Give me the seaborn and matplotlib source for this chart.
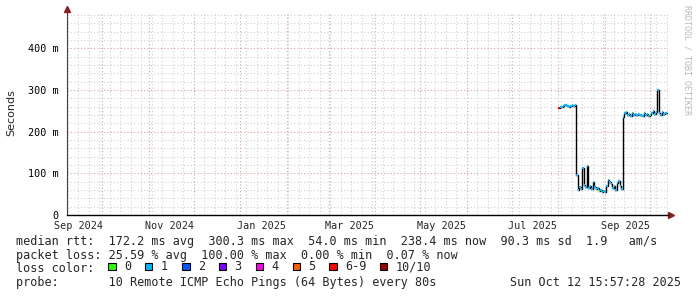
import numpy as np
import pandas as pd
import matplotlib
matplotlib.use("Agg")
import matplotlib.pyplot as plt
import matplotlib.dates as mdates
from matplotlib.patches import Rectangle
from matplotlib.ticker import MultipleLocator, FuncFormatter
import seaborn as sns

# ---------------- data ----------------
seg1_start = "2025-08-01"
seg1_ms = [256, 258, 259, 262, 264, 263, 261, 259, 262, 264, 262, 263]
seg1_loss = [7, 1, 1, 1, 1, 1, 1, 1, 1, 1, 1, 1]

seg2_start = "2025-08-13"
seg2_ms = [96, 60, 68, 63, 112, 72, 66, 118, 64, 70, 62, 80, 66, 62, 65, 58,
           60, 56, 57, 55, 70, 84, 78, 74, 64, 70, 60, 76, 82, 70, 62]
seg2_loss = [1] * 15 + [0] + [1] * 15

seg3_start = "2025-09-13"
seg3_ms = [236, 244, 246, 240, 243, 238, 245, 240, 242, 239, 243, 240, 241,
           238, 244, 240, 242, 238, 241, 245, 250, 242, 248, 300, 244, 240,
           246, 243, 245]
seg3_loss = [1] * 18 + [0] + [1] * 10

x_start = "2024-09-07 15:57:28"
x_end = "2025-10-12 15:57:28"

tick_labels = ["Sep 2024", "Nov 2024", "Jan 2025", "Mar 2025", "May 2025",
               "Jul 2025", "Sep 2025"]
tick_label_dates = ["2024-09-15", "2024-11-15", "2025-01-15", "2025-03-15",
                    "2025-05-15", "2025-07-15", "2025-09-15"]

loss_names = ["0", "1", "2", "3", "4", "5", "6-9", "10/10"]
loss_colors = ["#26ff00", "#00b8ff", "#0059ff", "#7e00ff", "#ff00ea",
               "#ff5e00", "#ff0000", "#a10000"]

legend_line1 = ("median rtt:  172.2 ms avg  300.3 ms max  54.0 ms min  "
                "238.4 ms now  90.3 ms sd  1.9   am/s")
legend_line2 = ("packet loss: 25.59 % avg  100.00 % max  0.00 % min  "
                "0.07 % now")
legend_line3 = "loss color:"
legend_line4 = "probe:       10 Remote ICMP Echo Pings (64 Bytes) every 80s"
timestamp = "Sun Oct 12 15:57:28 2025"


def loss_color(n):
    if n <= 5:
        return loss_colors[n]
    if n < 10:
        return loss_colors[6]
    return loss_colors[7]


frames = []
for start, vals, loss in [(seg1_start, seg1_ms, seg1_loss),
                          (seg2_start, seg2_ms, seg2_loss),
                          (seg3_start, seg3_ms, seg3_loss)]:
    t = pd.date_range(start, periods=len(vals), freq="D")
    frames.append(pd.DataFrame({"time": t, "rtt": np.array(vals) / 1000.0,
                                "loss": loss}))
df = pd.concat(frames, ignore_index=True)
last = pd.DataFrame({"time": [df["time"].iloc[-1] + pd.Timedelta(days=1)],
                     "rtt": [df["rtt"].iloc[-1]], "loss": [df["loss"].iloc[-1]]})
df_step = pd.concat([df, last], ignore_index=True)

# ---------------- figure ----------------
sns.set_style("white")
plt.rcParams["font.family"] = ["DejaVu Sans Mono", "DejaVu Sans"]

W, H = 697, 297
fig = plt.figure(figsize=(W / 100, H / 100), dpi=100)
fig.patch.set_facecolor("white")
ax_l, ax_r, ax_t, ax_b = 67, 667.5, 14, 215
ax = fig.add_axes([ax_l / W, (H - ax_b) / H, (ax_r - ax_l) / W, (ax_b - ax_t) / H])
ax.set_facecolor("white")

sns.lineplot(data=df_step, x="time", y="rtt", drawstyle="steps-post",
             color="black", linewidth=1.0, ax=ax, zorder=3)
ends = df["time"] + pd.Timedelta(days=1)
ax.hlines(df["rtt"], df["time"], ends, colors=[loss_color(v) for v in df["loss"]],
          linewidth=1.6, zorder=4)

ax.set_xlim(pd.Timestamp(x_start), pd.Timestamp(x_end))
ax.set_ylim(0, 0.482)

# grids
ax.xaxis.set_major_locator(mdates.MonthLocator(bymonthday=1))
ax.xaxis.set_minor_locator(mdates.WeekdayLocator(byweekday=mdates.SU))
ax.xaxis.set_major_formatter(FuncFormatter(lambda v, p: ""))
ax.yaxis.set_major_locator(MultipleLocator(0.1))
ax.yaxis.set_minor_locator(MultipleLocator(0.02))
ax.yaxis.set_major_formatter(FuncFormatter(
    lambda v, p: "0" if abs(v) < 1e-9 else f"{v * 1000:.0f} m"))

dot = (0, (1, 2))
ax.grid(which="minor", color="#d0d0d0", linestyle=dot, linewidth=0.8, zorder=0)
ax.grid(which="major", color="#eaa0a0", linestyle=dot, linewidth=0.8, zorder=1)
ax.set_axisbelow(True)

ax.tick_params(axis="x", which="both", length=0, pad=2)
ax.tick_params(axis="y", which="major", length=3, width=0.8, color="#404040",
               labelsize=7.3, pad=3, labelcolor="black")
ax.tick_params(axis="y", which="minor", length=2, width=0.6, color="#404040")
for lbl in ax.get_yticklabels():
    lbl.set_family("DejaVu Sans Mono")

for s in ["top", "right"]:
    ax.spines[s].set_visible(False)
ax.spines["left"].set_color("#404040")
ax.spines["left"].set_linewidth(0.8)
ax.spines["bottom"].set_color("black")
ax.spines["bottom"].set_linewidth(1.0)

# arrows on axes
ax.plot([0, 0], [1, 1.02], transform=ax.transAxes, color="#404040",
        linewidth=0.8, clip_on=False)
ax.plot([0], [1.025], marker="^", markersize=4, color="#8b1a1a",
        transform=ax.transAxes, clip_on=False)
ax.plot([1, 1.004], [0, 0], transform=ax.transAxes, color="black",
        linewidth=1.0, clip_on=False)
ax.plot([1.006], [0], marker=">", markersize=4, color="#8b1a1a",
        transform=ax.transAxes, clip_on=False)

# x labels centered mid-month
for lab, d in zip(tick_labels, tick_label_dates):
    ax.text(pd.Timestamp(d), -0.028, lab, transform=ax.get_xaxis_transform(),
            ha="center", va="top", fontsize=7.3, family="DejaVu Sans Mono")

ax.set_xlabel("")
ax.set_ylabel("")
fig.text(11 / W, 1 - 113 / H, "Seconds", rotation=90, ha="center", va="center",
         fontsize=8, family="DejaVu Sans")
fig.text(687 / W, 1 - 5 / H, "RRDTOOL / TOBI OETIKER", rotation=270,
         ha="center", va="top", fontsize=6, color="#b8b8b8",
         family="DejaVu Sans Mono")

# legend text
fs = 8.5
def ftext(x, y, s, **kw):
    fig.text(x / W, 1 - y / H, s, ha="left", va="center", fontsize=fs,
             family="DejaVu Sans Mono", **kw)

ftext(16, 241.5, legend_line1)
ftext(16, 255.0, legend_line2)
ftext(16, 268.0, legend_line3)
ftext(16, 282.5, legend_line4)
fig.text(681 / W, 1 - 282.5 / H, timestamp, ha="right", va="center",
         fontsize=fs, family="DejaVu Sans Mono")

box_x = [108.3, 145, 182.3, 219, 256, 292.7, 329.3, 380]
for bx, name, col in zip(box_x, loss_names, loss_colors):
    fig.add_artist(Rectangle((bx / W, 1 - 270.3 / H), 7.3 / W, 7.3 / H,
                             transform=fig.transFigure, facecolor=col,
                             edgecolor="black", linewidth=0.8))
    ftext(bx + 15.5, 267.0, name)

fig.savefig("out.png", dpi=100, facecolor="white")
